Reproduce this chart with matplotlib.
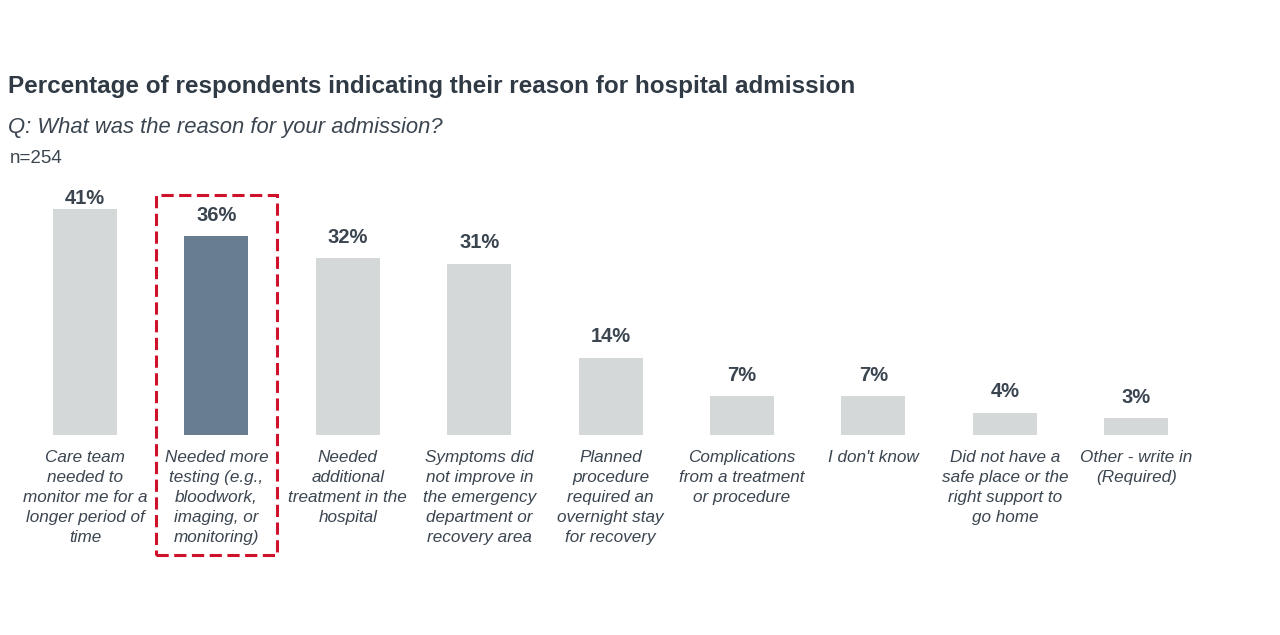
import matplotlib
matplotlib.use("Agg")
import matplotlib.pyplot as plt
from matplotlib.patches import Rectangle

categories = [
    "Care team\nneeded to\nmonitor me for a\nlonger period of\ntime",
    "Needed more\ntesting (e.g.,\nbloodwork,\nimaging, or\nmonitoring)",
    "Needed\nadditional\ntreatment in the\nhospital",
    "Symptoms did\nnot improve in\nthe emergency\ndepartment or\nrecovery area",
    "Planned\nprocedure\nrequired an\novernight stay\nfor recovery",
    "Complications\nfrom a treatment\nor procedure",
    "I don't know",
    "Did not have a\nsafe place or the\nright support to\ngo home",
    "Other - write in\n(Required)",
]
values = [41, 36, 32, 31, 14, 7, 7, 4, 3]
highlight = 1

title = "Percentage of respondents indicating their reason for hospital admission"
subtitle = "Q: What was the reason for your admission?"
base_note = "n=254"

font = "Liberation Sans"
text_col = "#3b4550"
grey = "#d5d8d9"
blue = "#687d8f"
red = "#d0112b"

fig = plt.figure(figsize=(12.8, 6.35), dpi=100)
ax = fig.add_axes([0, 0, 1, 1])
step = 131.4
x0 = 85
ax.set_xlim(-x0 / step, (1280 - x0) / step)
ppv = 5.52
base = 435
ax.set_ylim(-(635 - base) / ppv, base / ppv)
ax.axis("off")

xs = list(range(len(values)))
cols = [blue if i == highlight else grey for i in xs]
ax.bar(xs, values, width=0.487, color=cols)

# value labels sit ~21px above the bar, but never above the top row
label_cap = (base - 198) / ppv
for i, v in zip(xs, values):
    ly = min(v + 21 / ppv, label_cap)
    ax.text(i, ly, f"{v}%", ha="center", va="center", fontsize=14.5,
            fontweight="bold", family=font, color=text_col)
    ax.annotate(categories[i], (i, 0), xytext=(0, -11), textcoords="offset points",
                ha="center", va="top", fontsize=12.3, style="italic",
                family=font, color=text_col, linespacing=1.42)

# dashed highlight box around the second category
bx0 = (156 - x0) / step
bx1 = (277 - x0) / step
by_top = (base - 195) / ppv
by_bot = (base - 555) / ppv
ax.add_patch(Rectangle((bx0, by_bot), bx1 - bx0, by_top - by_bot, fill=False,
                       edgecolor=red, lw=2.2, ls=(0, (4, 1.8)), clip_on=False))

fig.text(8 / 1280, 1 - 86 / 635, title, fontsize=17.45, fontweight="bold",
         family=font, color="#2f3a45", va="center", ha="left")
fig.text(8 / 1280, 1 - 127 / 635, subtitle, fontsize=15.8,
         style="italic", family=font, color=text_col, va="center", ha="left")
fig.text(10 / 1280, 1 - 159 / 635, base_note, fontsize=13.5,
         family=font, color=text_col, va="center", ha="left")

fig.savefig("out.png", dpi=100, facecolor="white")
